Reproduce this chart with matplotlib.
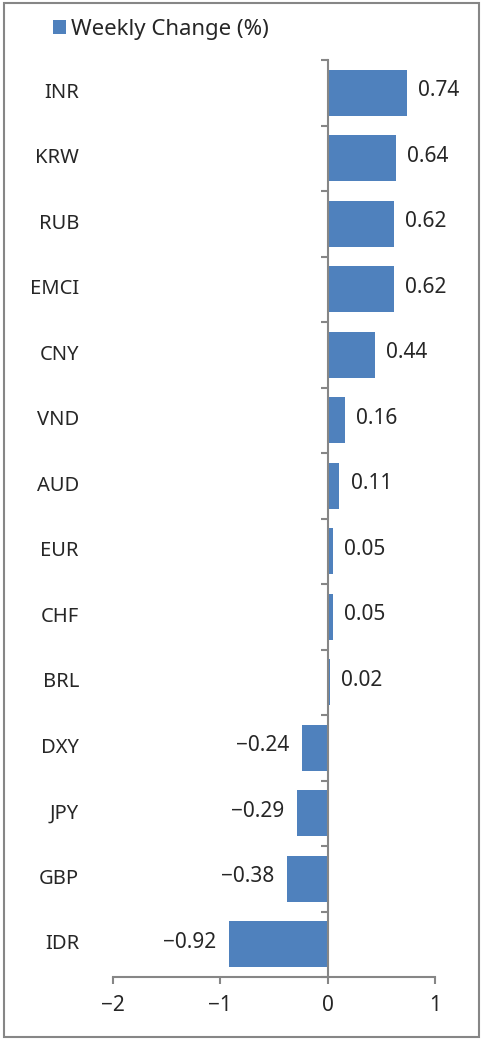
import matplotlib.pyplot as plt
import matplotlib.transforms as mtransforms
from matplotlib.patches import Rectangle, Patch

plt.rcParams['font.family'] = ['Noto Sans', 'DejaVu Sans']

# weekly change of currencies (%), top to bottom
currencies = ['INR', 'KRW', 'RUB', 'EMCI', 'CNY', 'VND', 'AUD', 'EUR', 'CHF', 'BRL', 'DXY', 'JPY', 'GBP', 'IDR']
changes = [0.74, 0.64, 0.62, 0.62, 0.44, 0.16, 0.11, 0.05, 0.05, 0.02, -0.24, -0.29, -0.38, -0.92]
x_ticks = [-2, -1, 0, 1]

bar_color = '#4F81BD'
axis_color = '#868686'
text_color = '#262626'

W, H = 483, 1040
fig = plt.figure(figsize=(W / 100, H / 100), dpi=100)
ax = fig.add_axes([113 / W, 1 - 977 / H, (435 - 113) / W, (977 - 60) / H])

pos = list(range(len(currencies)))
ax.barh(pos, changes, height=0.7, color=bar_color)
ax.set_xlim(-2, 1)
ax.set_ylim(len(currencies) - 0.5, -0.5)

# value labels next to bar ends
for p, v in zip(pos, changes):
    if v >= 0:
        ax.annotate('{:.2f}'.format(v), (v, p), xytext=(8, 1.5), textcoords='offset points',
                    ha='left', va='center', fontsize=15, color=text_color)
    else:
        ax.annotate('{:.2f}'.format(v).replace('-', '\u2212'), (v, p), xytext=(-9, 1.5),
                    textcoords='offset points', ha='right', va='center', fontsize=15, color=text_color)

# category names at the far left of the figure
trans = mtransforms.blended_transform_factory(fig.transFigure, ax.transData)
for p, name in zip(pos, currencies):
    ax.text(79 / W, p, name, transform=trans, ha='right', va='center',
            fontsize=14.5, color=text_color)

# spines: vertical axis at zero, bottom axis with ticks
for s in ['top', 'right']:
    ax.spines[s].set_visible(False)
ax.spines['left'].set_position(('data', 0))
ax.spines['left'].set_color(axis_color)
ax.spines['bottom'].set_color(axis_color)
ax.spines['left'].set_linewidth(1.5)
ax.spines['bottom'].set_linewidth(1.5)

ax.set_yticks([p - 0.5 for p in pos] + [len(currencies) - 0.5])
ax.set_yticklabels([])
ax.tick_params(axis='y', direction='out', length=5, width=1.5, color=axis_color)

ax.set_xticks(x_ticks)
ax.set_xticklabels([str(t).replace('-', '\u2212') for t in x_ticks])
ax.tick_params(axis='x', direction='out', length=5, width=1.5, color=axis_color,
               labelsize=15, labelcolor=text_color, pad=8)

# legend at the top
handle = Patch(facecolor=bar_color, edgecolor='none', label='Weekly Change (%)')
fig.legend(handles=[handle], loc='center left', bbox_to_anchor=(53 / W, 1 - 29 / H),
           frameon=False, fontsize=16, handlelength=0.6, handleheight=0.6,
           handletextpad=0.2, borderpad=0, borderaxespad=0, labelcolor=text_color)

# outer frame
fig.patches.append(Rectangle((4 / W, 3 / H), (W - 8) / W, (H - 6) / H, transform=fig.transFigure,
                             fill=False, edgecolor=axis_color, linewidth=1.5))

fig.savefig('out.png', dpi=100)
